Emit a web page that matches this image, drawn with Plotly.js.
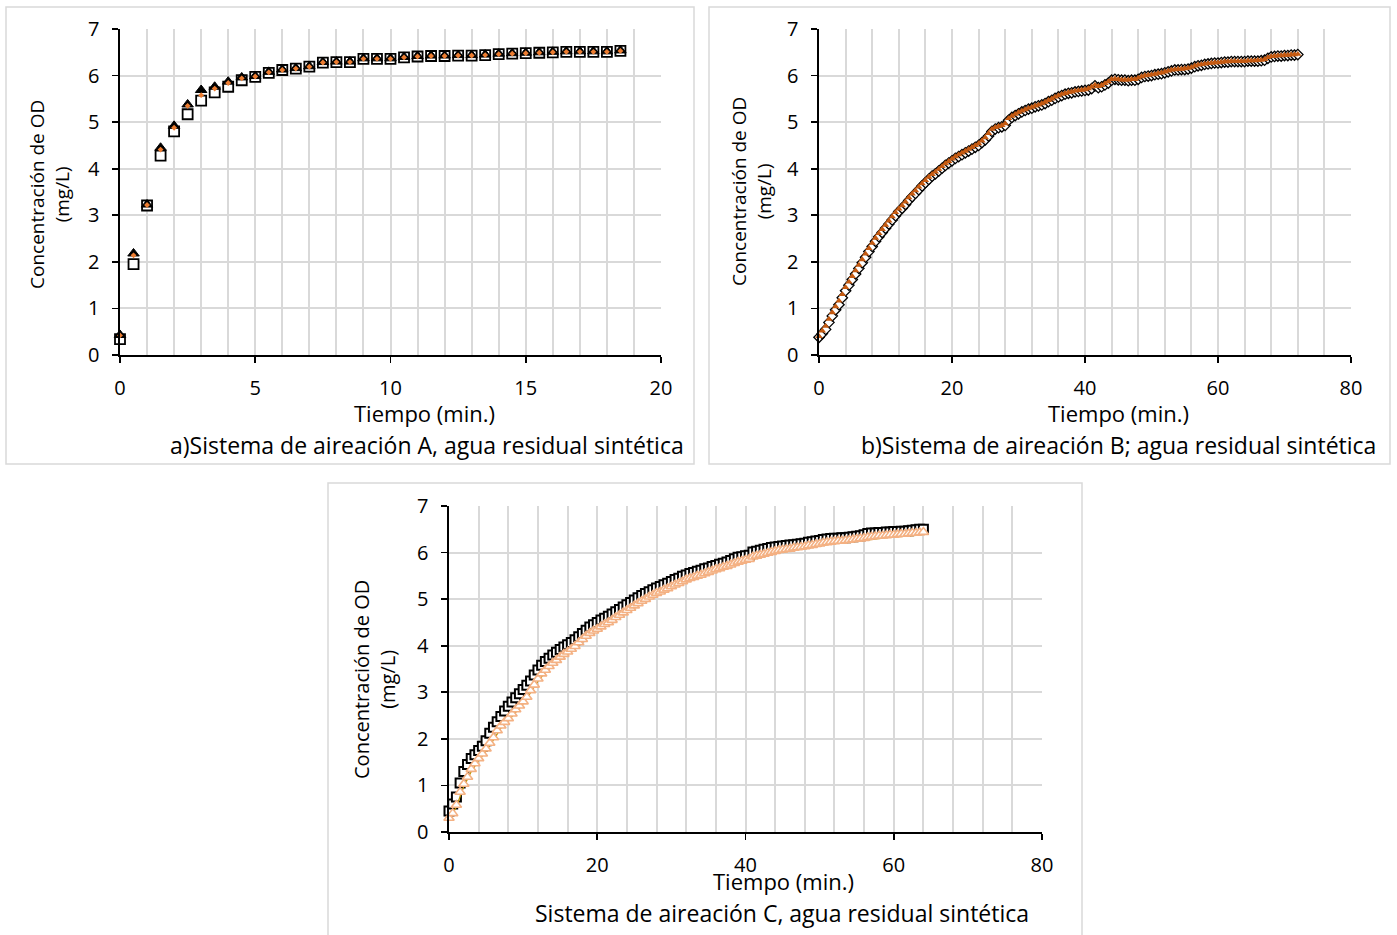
<!DOCTYPE html>
<html>
<head>
<meta charset="utf-8">
<script src="https://cdn.plot.ly/plotly-3.0.1.min.js"></script>
<style>html,body{margin:0;padding:0;background:#fff;}#chart{width:1397px;height:935px;}</style>
</head>
<body>
<div id="chart"></div>
<script>
// ---------- Panel A: Sistema de aireación A (t every 0.5 min) ----------
const aTime = [0,0.5,1,1.5,2,2.5,3,3.5,4,4.5,5,5.5,6,6.5,7,7.5,8,8.5,9,9.5,10,10.5,11,11.5,12,12.5,13,13.5,14,14.5,15,15.5,16,16.5,17,17.5,18,18.5];
const aSquare = [0.34,1.95,3.21,4.28,4.80,5.17,5.46,5.64,5.76,5.90,5.97,6.06,6.12,6.15,6.19,6.28,6.29,6.29,6.36,6.36,6.36,6.39,6.41,6.42,6.42,6.43,6.43,6.44,6.46,6.47,6.48,6.49,6.50,6.51,6.51,6.51,6.51,6.53];
const aTriangle = [0.43,2.18,3.23,4.45,4.92,5.38,5.69,5.76,5.87,5.96,5.99,6.08,6.13,6.16,6.20,6.29,6.30,6.30,6.37,6.37,6.37,6.40,6.42,6.43,6.43,6.44,6.44,6.45,6.47,6.48,6.49,6.50,6.51,6.52,6.52,6.52,6.52,6.54];
const aOrange = [0.42,2.14,3.22,4.41,4.88,5.35,5.58,5.72,5.84,5.94,5.98,6.07,6.12,6.15,6.19,6.28,6.29,6.29,6.36,6.36,6.36,6.39,6.41,6.42,6.42,6.43,6.43,6.44,6.46,6.47,6.48,6.49,6.50,6.51,6.51,6.51,6.51,6.53];

// ---------- Panel B: Sistema de aireación B (sampled every 0.5 min, 0-72) ----------
const bDiamond = [0.38,0.46,0.55,0.70,0.84,0.97,1.08,1.23,1.38,1.50,1.62,1.74,1.86,1.98,2.10,2.22,2.33,2.44,2.54,2.63,2.72,2.81,2.90,2.99,3.08,3.15,3.23,3.32,3.40,3.47,3.55,3.63,3.70,3.77,3.84,3.89,3.95,4.01,4.07,4.12,4.17,4.22,4.26,4.30,4.34,4.38,4.42,4.46,4.50,4.56,4.62,4.70,4.80,4.85,4.88,4.90,4.93,5.04,5.10,5.14,5.18,5.22,5.25,5.28,5.30,5.33,5.35,5.37,5.40,5.44,5.47,5.51,5.54,5.57,5.60,5.62,5.63,5.65,5.66,5.67,5.68,5.69,5.72,5.78,5.74,5.76,5.80,5.84,5.90,5.92,5.91,5.90,5.90,5.89,5.90,5.90,5.92,5.96,5.98,5.99,6.00,6.02,6.03,6.04,6.06,6.08,6.10,6.12,6.12,6.13,6.13,6.14,6.16,6.19,6.21,6.22,6.24,6.25,6.26,6.27,6.27,6.28,6.29,6.29,6.30,6.30,6.30,6.30,6.30,6.31,6.31,6.31,6.31,6.32,6.33,6.37,6.40,6.41,6.42,6.42,6.43,6.43,6.44,6.44,6.45];
const bTriangle = [0.40,0.52,0.62,0.77,0.91,1.04,1.16,1.30,1.45,1.57,1.69,1.81,1.93,2.05,2.17,2.29,2.40,2.51,2.61,2.70,2.79,2.88,2.97,3.06,3.14,3.21,3.29,3.38,3.46,3.53,3.61,3.68,3.75,3.82,3.88,3.93,3.99,4.05,4.11,4.16,4.21,4.26,4.30,4.34,4.38,4.42,4.46,4.50,4.54,4.60,4.67,4.76,4.85,4.89,4.91,4.93,4.97,5.08,5.13,5.17,5.21,5.24,5.27,5.30,5.32,5.35,5.37,5.40,5.43,5.47,5.50,5.54,5.57,5.60,5.62,5.64,5.65,5.67,5.68,5.69,5.70,5.72,5.76,5.80,5.77,5.79,5.83,5.87,5.92,5.93,5.92,5.91,5.91,5.91,5.92,5.92,5.95,5.98,6.00,6.01,6.02,6.03,6.05,6.06,6.08,6.10,6.12,6.13,6.14,6.14,6.15,6.16,6.18,6.21,6.23,6.24,6.25,6.26,6.27,6.28,6.28,6.29,6.30,6.30,6.31,6.31,6.31,6.31,6.31,6.32,6.32,6.32,6.33,6.33,6.35,6.39,6.41,6.42,6.43,6.43,6.44,6.44,6.45,6.45,6.46];
// green line series, one reading per minute
const bLine = [0.36,0.53,0.82,1.06,1.35,1.60,1.84,2.08,2.31,2.52,2.70,2.88,3.06,3.21,3.38,3.53,3.68,3.82,3.93,4.05,4.15,4.24,4.32,4.40,4.48,4.60,4.78,4.86,4.90,5.08,5.16,5.23,5.28,5.33,5.38,5.45,5.52,5.58,5.61,5.64,5.66,5.70,5.72,5.78,5.88,5.89,5.88,5.88,5.90,5.96,5.98,6.01,6.04,6.08,6.10,6.11,6.14,6.19,6.22,6.24,6.25,6.27,6.28,6.28,6.28,6.29,6.29,6.31,6.38,6.40,6.41,6.42,6.43];

// ---------- Panel C: Sistema de aireación C (sampled every 0.5 min, 0-64) ----------
const cSquare = [0.45,0.60,0.75,1.05,1.30,1.45,1.58,1.66,1.75,1.84,1.96,2.12,2.25,2.37,2.48,2.60,2.70,2.79,2.88,2.97,3.06,3.15,3.24,3.37,3.48,3.58,3.66,3.73,3.80,3.86,3.92,3.97,4.02,4.07,4.13,4.19,4.26,4.33,4.40,4.45,4.50,4.55,4.59,4.63,4.68,4.73,4.78,4.83,4.88,4.93,4.98,5.03,5.08,5.12,5.16,5.20,5.24,5.27,5.31,5.34,5.38,5.42,5.45,5.49,5.52,5.55,5.57,5.60,5.62,5.65,5.67,5.70,5.72,5.75,5.77,5.80,5.83,5.87,5.90,5.91,5.93,5.94,6.01,6.03,6.05,6.07,6.09,6.11,6.12,6.13,6.14,6.15,6.16,6.17,6.18,6.19,6.20,6.22,6.23,6.25,6.26,6.28,6.29,6.30,6.31,6.31,6.32,6.32,6.33,6.34,6.35,6.36,6.38,6.41,6.42,6.42,6.43,6.43,6.44,6.44,6.45,6.45,6.46,6.46,6.47,6.48,6.49,6.50,6.50];
const cTriangle = [0.30,0.40,0.58,0.86,1.03,1.18,1.35,1.47,1.58,1.68,1.79,1.91,2.03,2.18,2.28,2.36,2.44,2.54,2.63,2.71,2.80,2.90,3.04,3.16,3.29,3.40,3.48,3.56,3.63,3.69,3.76,3.82,3.87,3.93,3.99,4.07,4.14,4.21,4.27,4.32,4.36,4.41,4.46,4.50,4.55,4.61,4.66,4.71,4.76,4.81,4.86,4.91,4.96,5.00,5.05,5.09,5.13,5.16,5.20,5.23,5.27,5.31,5.34,5.38,5.42,5.45,5.47,5.50,5.52,5.55,5.58,5.61,5.64,5.66,5.69,5.71,5.74,5.77,5.80,5.82,5.84,5.86,5.91,5.93,5.95,5.97,5.99,6.01,6.03,6.05,6.06,6.07,6.08,6.10,6.11,6.12,6.13,6.15,6.16,6.18,6.19,6.21,6.22,6.23,6.24,6.25,6.25,6.26,6.27,6.28,6.29,6.30,6.31,6.33,6.34,6.35,6.36,6.36,6.37,6.38,6.38,6.39,6.40,6.40,6.41,6.42,6.42,6.43,6.44];
// gold line series, one reading per minute
const cLine = [0.27,0.54,0.98,1.30,1.53,1.74,1.98,2.23,2.39,2.58,2.75,2.99,3.24,3.43,3.58,3.71,3.82,3.94,4.09,4.22,4.31,4.41,4.50,4.61,4.71,4.81,4.91,5.00,5.08,5.15,5.22,5.29,5.37,5.42,5.47,5.53,5.59,5.64,5.69,5.75,5.79,5.86,5.90,5.94,5.98,6.01,6.03,6.06,6.08,6.11,6.14,6.17,6.19,6.20,6.22,6.24,6.26,6.29,6.31,6.32,6.33,6.35,6.36,6.37,6.39];

// ---------- Texts ----------
const yTitle = 'Concentración de OD<br>(mg/L)';
const xTitle = 'Tiempo (min.)';
const capA = 'a)Sistema de aireación A, agua residual sintética';
const capB = 'b)Sistema de aireación B; agua residual sintética';
const capC = 'Sistema de aireación C, agua residual sintética';

// sample times (regular sampling interval)
function sampleTimes(n, step) { const t = []; for (let i = 0; i < n; i++) t.push(i * step); return t; }

const W = 1397, H = 935;
const FONT = 'Open Sans';
const px = v => v / W;
const py = v => 1 - v / H;

const traces = [
  // Panel A
  {x: aTime, y: aSquare, xaxis: 'x', yaxis: 'y', type: 'scatter', mode: 'markers', cliponaxis: false,
   marker: {symbol: 'square', size: 10, color: '#ffffff', line: {color: '#000000', width: 1.8}}},
  {x: aTime, y: aTriangle, xaxis: 'x', yaxis: 'y', type: 'scatter', mode: 'markers', cliponaxis: false,
   marker: {symbol: 'triangle-up', size: 10, color: '#000000', line: {color: '#000000', width: 1}}},
  {x: aTime, y: aOrange, xaxis: 'x', yaxis: 'y', type: 'scatter', mode: 'markers', cliponaxis: false,
   marker: {symbol: 'diamond', size: 4.5, color: '#ED7D31', line: {width: 0}}},
  // Panel B
  {x: sampleTimes(bLine.length, 1), y: bLine, xaxis: 'x2', yaxis: 'y2', type: 'scatter', mode: 'lines', cliponaxis: false,
   line: {color: '#70AD47', width: 1.5}},
  {x: sampleTimes(bDiamond.length, 0.5), y: bDiamond, xaxis: 'x2', yaxis: 'y2', type: 'scatter', mode: 'markers', cliponaxis: false,
   marker: {symbol: 'diamond', size: 8, color: '#ffffff', line: {color: '#000000', width: 1.3}}},
  {x: sampleTimes(bTriangle.length, 0.5), y: bTriangle, xaxis: 'x2', yaxis: 'y2', type: 'scatter', mode: 'markers', cliponaxis: false,
   marker: {symbol: 'triangle-up', size: 6.5, color: '#C55A11', line: {width: 0}}},
  // Panel C
  {x: sampleTimes(cSquare.length, 0.5), y: cSquare, xaxis: 'x3', yaxis: 'y3', type: 'scatter', mode: 'markers', cliponaxis: false,
   marker: {symbol: 'square', size: 9, color: '#ffffff', line: {color: '#000000', width: 2}}},
  {x: sampleTimes(cLine.length, 1), y: cLine, xaxis: 'x3', yaxis: 'y3', type: 'scatter', mode: 'lines', cliponaxis: false,
   line: {color: '#BF9000', width: 1.3}},
  {x: sampleTimes(cTriangle.length, 0.5), y: cTriangle, xaxis: 'x3', yaxis: 'y3', type: 'scatter', mode: 'markers', cliponaxis: false,
   marker: {symbol: 'triangle-up', size: 9, color: '#ffffff', line: {color: '#F4B183', width: 1.6}}}
];

function xAxis(domain, range, dtick, minor, anchor) {
  return {
    domain: domain, range: range, anchor: anchor, dtick: dtick, tick0: 0,
    showline: true, linecolor: '#000', linewidth: 1.6,
    ticks: 'outside', ticklen: 6, tickwidth: 1.6, tickcolor: '#000', ticklabelstandoff: 8,
    showgrid: true, gridcolor: '#d9d9d9', gridwidth: 2, zeroline: false,
    minor: {dtick: minor, tick0: 0, showgrid: true, gridcolor: '#d9d9d9', gridwidth: 2, ticks: ''},
    tickfont: {family: FONT, size: 20, color: '#000'}, fixedrange: true
  };
}
function yAxis(domain, anchor) {
  return {
    domain: domain, range: [0, 7], anchor: anchor, dtick: 1, tick0: 0,
    showline: true, linecolor: '#000', linewidth: 1.6,
    ticks: 'outside', ticklen: 6, tickwidth: 1.6, tickcolor: '#000', ticklabelstandoff: 9,
    showgrid: true, gridcolor: '#d9d9d9', gridwidth: 2, zeroline: false,
    tickfont: {family: FONT, size: 20, color: '#000'}, fixedrange: true
  };
}

const boxLine = {color: '#d9d9d9', width: 1.5};
const shapes = [
  {type: 'rect', xref: 'paper', yref: 'paper', x0: px(6), x1: px(694), y0: py(464), y1: py(7), line: boxLine, layer: 'below'},
  {type: 'rect', xref: 'paper', yref: 'paper', x0: px(709), x1: px(1390), y0: py(464), y1: py(7), line: boxLine, layer: 'below'},
  {type: 'rect', xref: 'paper', yref: 'paper', x0: px(328), x1: px(1082), y0: py(945), y1: py(483), line: boxLine, layer: 'below'}
];

function ann(text, x, y, size, opts) {
  return Object.assign({text: text, xref: 'paper', yref: 'paper', x: px(x), y: py(y), showarrow: false,
    xanchor: 'center', yanchor: 'middle', font: {family: FONT, size: size, color: '#000'}}, opts || {});
}

const annotations = [
  ann(xTitle, 425, 413, 22),
  ann(xTitle, 1118, 413, 22),
  ann(xTitle, 783, 881, 22),
  ann(capA, 686, 445, 23, {xanchor: 'right'}),
  ann(capB, 1378, 445, 23, {xanchor: 'right'}),
  ann(capC, 782, 913, 23),
  ann(yTitle, 50, 195, 19, {textangle: -90}),
  ann(yTitle, 752, 192, 19, {textangle: -90}),
  ann(yTitle, 374, 680, 20, {textangle: -90})
];

const layout = {
  width: W, height: H, margin: {l: 0, r: 0, t: 0, b: 0},
  paper_bgcolor: '#fff', plot_bgcolor: 'rgba(0,0,0,0)', showlegend: false,
  font: {family: FONT, color: '#000'},
  xaxis: xAxis([px(120), px(661)], [0, 20], 5, 1, 'y'),
  yaxis: yAxis([py(355), py(29)], 'x'),
  xaxis2: xAxis([px(819), px(1351)], [0, 80], 20, 4, 'y2'),
  yaxis2: yAxis([py(355), py(29)], 'x2'),
  xaxis3: xAxis([px(449), px(1042)], [0, 80], 20, 4, 'y3'),
  yaxis3: yAxis([py(832), py(506)], 'x3'),
  shapes: shapes,
  annotations: annotations
};

Plotly.newPlot('chart', traces, layout, {staticPlot: true, displayModeBar: false});
</script>
</body>
</html>
